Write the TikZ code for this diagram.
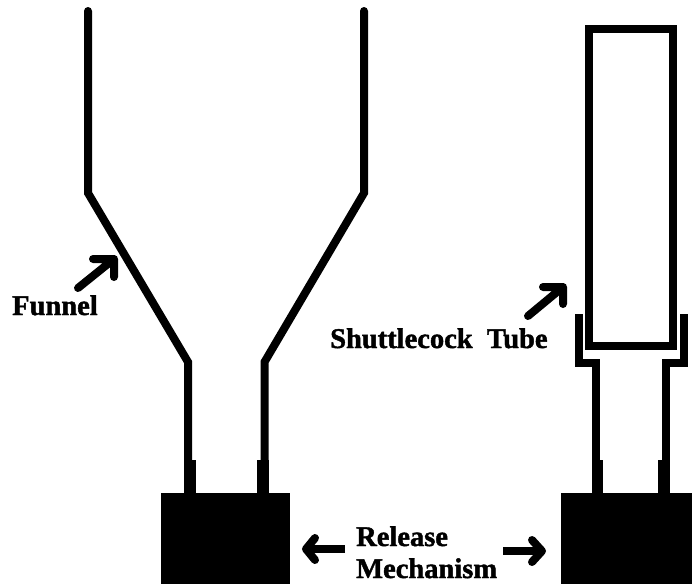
\documentclass[tikz,border=0pt]{standalone}
\usepackage{fontspec}
\setmainfont[BoldFeatures={FakeBold=1.5}]{Liberation Serif}
\begin{document}
\begin{tikzpicture}[x=1pt,y=-1pt,
  wall/.style={line width=8pt,line join=miter,line cap=butt},
  stub/.style={fill=black,draw=none},
  pointer/.style={line width=8pt,line cap=round,line join=round},
  lbl/.style={inner sep=0pt,anchor=base west,font=\fontsize{28.5}{28.5}\selectfont\bfseries}]
\useasboundingbox (0,0) rectangle (692,584);
% funnel
\draw[wall,line cap=round] (88,11) -- (88,193) -- (188,362) -- (188,465);
\draw[wall,line cap=round] (364,11) -- (364,193) -- (264.5,362) -- (264.5,465);
\fill[stub] (184,460) rectangle (196,494);
\fill[stub] (257,460) rectangle (268.5,494);
\node[stub,minimum width=129pt,minimum height=91pt,inner sep=0pt,anchor=north west] (blockL) at (161,493) {};
% tube
\draw[wall] (589,29) rectangle (672.5,346);
\draw[wall] (578.5,314) -- (578.5,363) -- (595.5,363) -- (595.5,465);
\draw[wall] (683.5,314) -- (683.5,363) -- (666,363) -- (666,465);
\fill[stub] (591.5,460) rectangle (603,494);
\fill[stub] (658,460) rectangle (670,494);
\node[stub,minimum width=131pt,minimum height=91pt,inner sep=0pt,anchor=north west] (blockR) at (561,493) {};
% labels
\node[lbl] (funnel) at (12,315) {Funnel};
\node[lbl] (tube) at (330,348) {Shuttlecock\hspace{7pt} Tube};
\node[lbl] (rel) at (356,546) {Release};
\node[lbl] (mech) at (356,578) {Mechanism};
% pointers
\coordinate (a1) at (78,288); \coordinate (a2) at (114,259);
\draw[pointer] (a1) -- (a2) (93,259) -- (a2) -- (114,277);
\coordinate (b1) at (528,316); \coordinate (b2) at (563,287);
\draw[pointer] (b1) -- (b2) (543,287) -- (b2) -- (563,304);
\coordinate (c1) at (345,549); \coordinate (c2) at (306,549);
\draw[pointer,line cap=butt] (c1) -- (c2);
\draw[pointer] (315,538) -- (c2) -- (315,560);
\coordinate (d1) at (503,551); \coordinate (d2) at (542,551);
\draw[pointer,line cap=butt] (d1) -- (d2);
\draw[pointer] (532,540) -- (d2) -- (532,562);
\end{tikzpicture}
\end{document}
